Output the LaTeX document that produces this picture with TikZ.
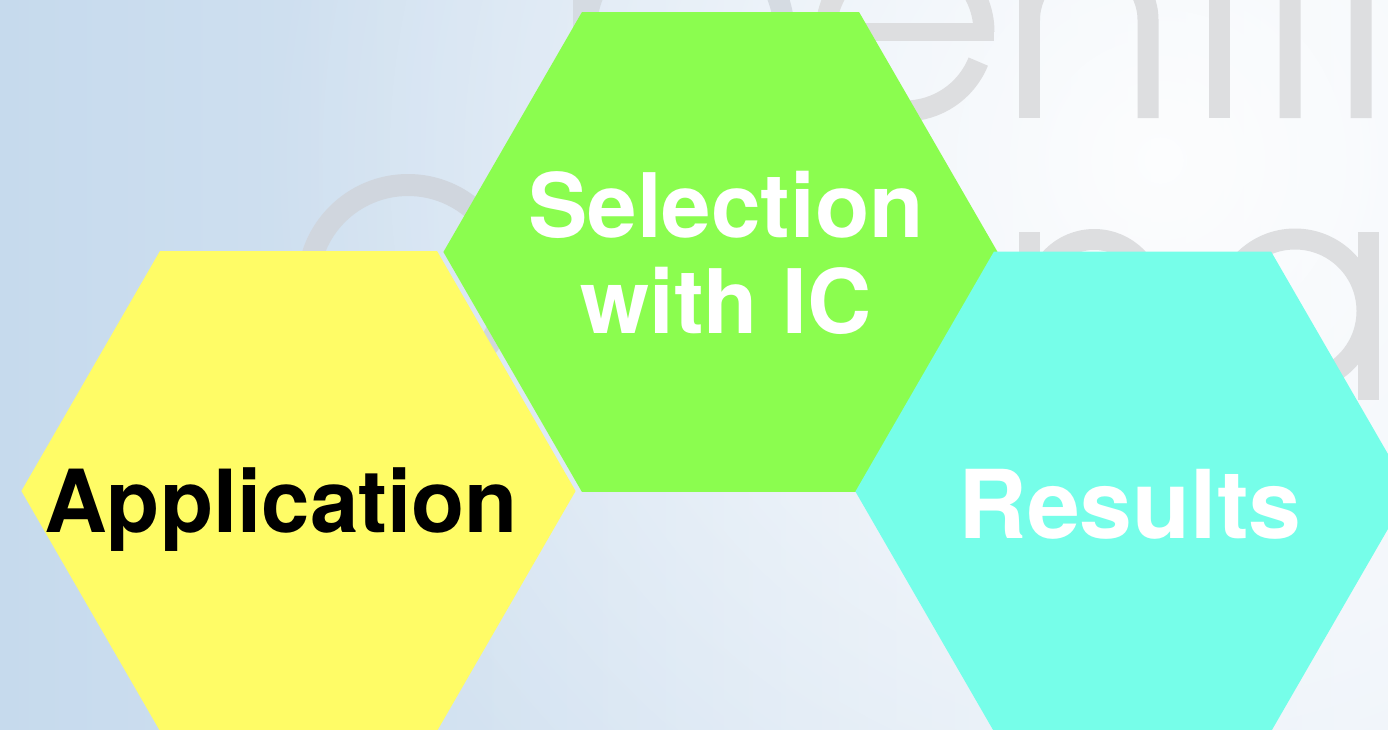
\documentclass[tikz,border=0pt]{standalone}
\usepackage{fontspec}
\setmainfont{TeX Gyre Heros}
\usetikzlibrary{shapes.geometric,fadings}

% palette
\definecolor{bgleft}{RGB}{198,218,237}
\definecolor{bgright}{RGB}{236,242,249}
\definecolor{glyphgray}{RGB}{221,222,224}
\definecolor{glyphblue}{RGB}{208,214,222}
\definecolor{glyphmid}{RGB}{213,219,226}
\definecolor{hexyellow}{RGB}{255,252,102}
\definecolor{hexgreen}{RGB}{139,253,79}
\definecolor{hexcyan}{RGB}{118,254,233}

\tikzfading[name=glowfade, inner color=transparent!0, outer color=transparent!100]

\tikzset{
  hexcell/.style={regular polygon, regular polygon sides=6, minimum size=554.2pt,
    inner sep=0pt, outer sep=0pt, draw=none},
  glyph/.style={line width=21pt, line cap=butt},
  bigtext/.style={anchor=base, inner sep=0pt, outer sep=0pt},
}

\begin{document}
\begin{tikzpicture}[x=1pt, y=-1pt]
\useasboundingbox (0,0) rectangle (1388,729);

% backdrop with soft light and large thin lettering
\begin{scope}
  \clip (0,0) rectangle (1388,729);
  \shade[left color=bgleft, right color=bgright] (0,0) rectangle (1388,729);
  \fill[white, opacity=0.9, path fading=glowfade] (1160,160) circle (900);

  % upper line of lettering
  \draw[glyph, glyphmid] (583,-80) -- (583,200);
  \draw[glyph, glyphmid] (685,32) circle (99);
  \draw[glyph, glyphgray, line width=18pt] (816,32) -- (994,32);
  \draw[glyph, glyphgray] (984,32) arc[start angle=0, end angle=-338, radius=79];
  \draw[glyph, glyphgray] (1029.5,-80) -- (1029.5,118);
  \draw[glyph, glyphgray] (1148,118) -- (1148,20) arc[start angle=0, end angle=-180, radius=59.25];
  \draw[glyph, glyphgray] (1219,-80) -- (1219,118);
  \draw[glyph, glyphgray] (1290,118) -- (1290,-5) arc[start angle=0, end angle=-180, radius=35.5];
  \draw[glyph, glyphgray] (1361,118) -- (1361,-5) arc[start angle=0, end angle=-180, radius=35.5];

  % lower line of lettering
  \draw[glyph, glyphblue, line width=22pt] (408,285) circle (100);
  \draw[glyph, glyphgray] (1029.5,232) -- (1029.5,400);
  \draw[glyph, glyphgray] (1153.5,400) -- (1153.5,298.75) arc[start angle=0, end angle=-180, radius=59.25];
  \draw[glyph, glyphgray] (1295,311) circle (72);
  \draw[glyph, glyphgray] (1368,232) -- (1368,400);
\end{scope}

% honeycomb cells
\node[hexcell, fill=hexyellow] (app) at (298.5,491) {};
\node[hexcell, fill=hexgreen] (sel) at (720.5,252) {};
\node[hexcell, fill=hexcyan] (res) at (1132.5,491.5) {};

% cell captions (base of a two-line caption is its last line)
\node[bigtext, text=black, font=\bfseries\fontsize{87}{96}\selectfont] (apptext) at (281,532) {Application};
\node[bigtext, text=white, align=center, font=\bfseries\fontsize{89}{96}\selectfont] (seltext) at (726,333) {Selection\\with IC};
\node[bigtext, text=white, font=\bfseries\fontsize{95}{100}\selectfont] (restext) at (1130,538) {Results};
\end{tikzpicture}
\end{document}
